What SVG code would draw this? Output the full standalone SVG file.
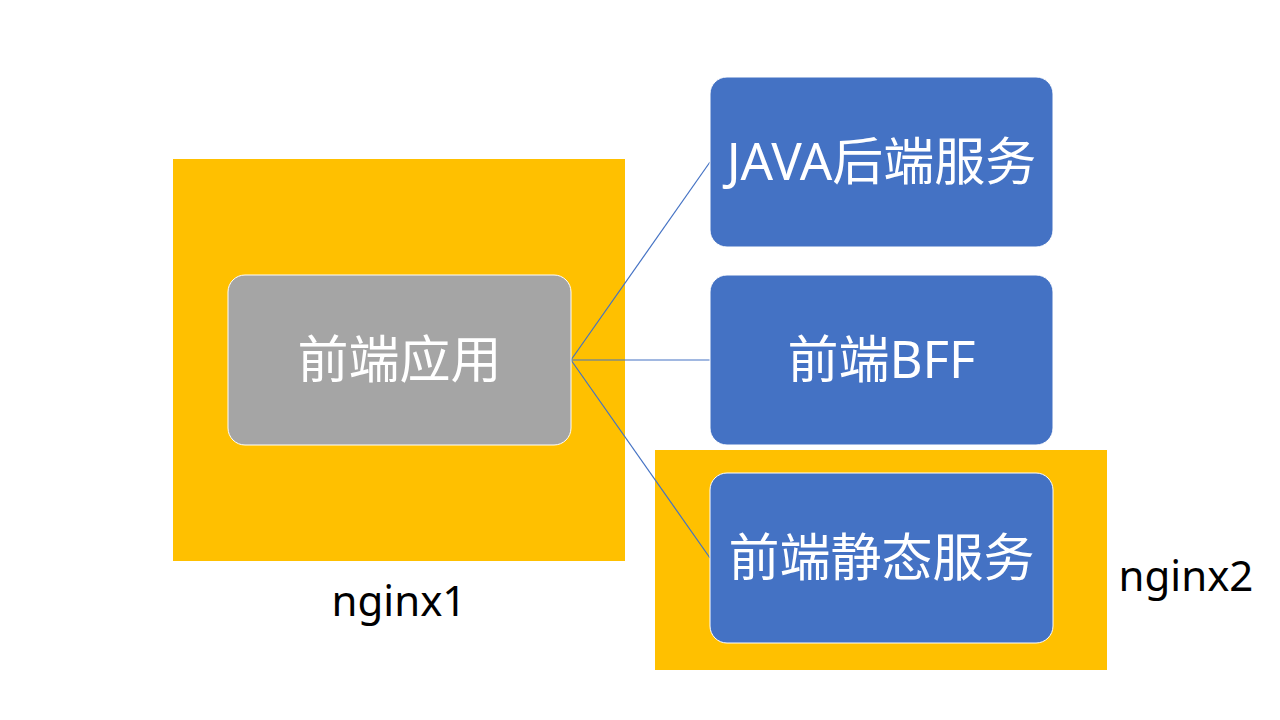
<svg xmlns="http://www.w3.org/2000/svg" width="1280" height="720" viewBox="0 0 1280 720">
<style>
.zone{fill:#FFC000}
.blue{fill:#4472C4;stroke:#FFFFFF;stroke-width:1}
.gray{fill:#A5A5A5;stroke:#FFFFFF;stroke-width:1}
.lbl{font-family:"Noto Sans","Noto Sans CJK SC",sans-serif;font-size:51px;fill:#FFFFFF;text-anchor:middle}
.cap{font-family:"Noto Sans",sans-serif;font-size:42px;fill:#000000;text-anchor:middle}
.conn{stroke:#4472C4;stroke-width:1.2;fill:none}
</style>
<rect width="1280" height="720" fill="#FFFFFF"/>
<g id="nginx1">
<rect class="zone" x="173" y="159" width="452" height="402"/>
<text class="cap" x="399" y="616">nginx1</text>
</g>
<g id="nginx2">
<rect class="zone" x="655" y="450" width="452" height="220"/>
<text class="cap" x="1186" y="591">nginx2</text>
</g>
<g id="connectors">
<line class="conn" x1="571" y1="360" x2="710" y2="162"/>
<line class="conn" x1="571" y1="360" x2="710" y2="360"/>
<line class="conn" x1="571" y1="360" x2="710" y2="558"/>
</g>
<g id="frontend">
<rect class="gray" x="228" y="275" width="343" height="170" rx="17"/>
<text class="lbl" x="399.5" y="378">前端应用</text>
</g>
<g id="java">
<rect class="blue" x="710" y="77" width="343" height="170" rx="17"/>
<text class="lbl" x="881.5" y="180">JAVA后端服务</text>
</g>
<g id="bff">
<rect class="blue" x="710" y="275" width="343" height="170" rx="17"/>
<text class="lbl" x="881.5" y="378">前端BFF</text>
</g>
<g id="static">
<rect class="blue" x="710" y="473" width="343" height="170" rx="17"/>
<text class="lbl" x="881.5" y="576">前端静态服务</text>
</g>
</svg>
